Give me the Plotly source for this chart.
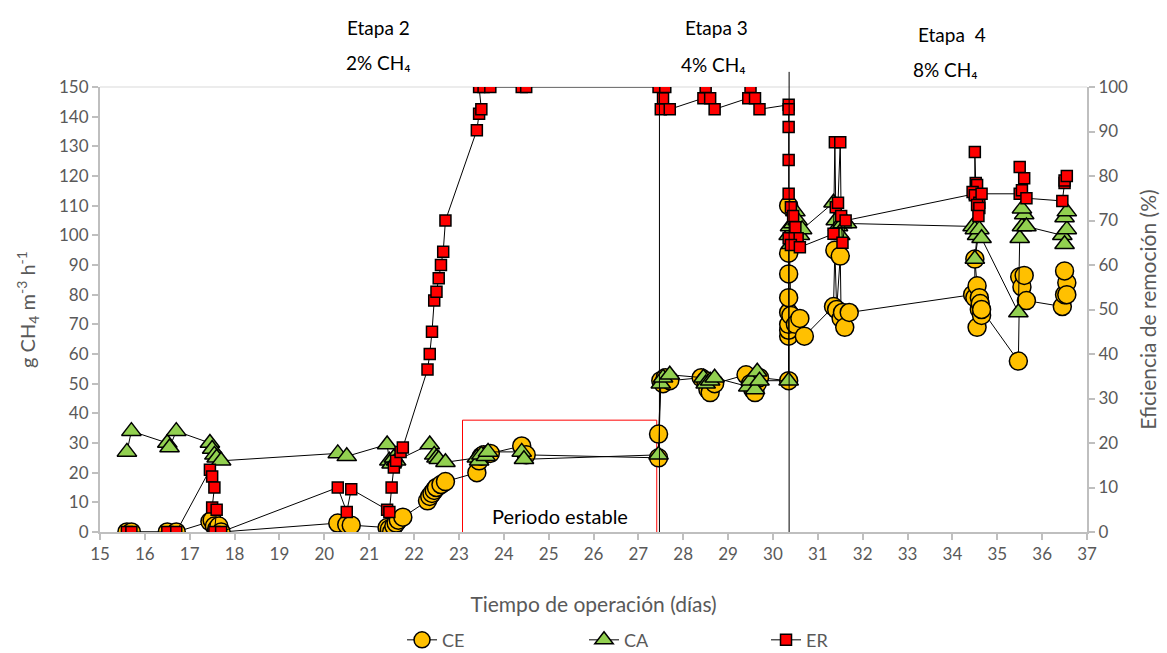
import plotly.graph_objects as go

# CE (g CH4 m-3 h-1) — operation day, value
ce_day = [15.6, 15.7, 16.5, 16.7,
          17.45, 17.5, 17.55, 17.6, 17.65, 17.7,
          20.3, 20.5, 20.6,
          21.4, 21.45, 21.5, 21.55, 21.6, 21.65, 21.75,
          22.3, 22.35, 22.4, 22.45, 22.5, 22.6, 22.7,
          23.4, 23.45, 23.5, 23.55, 23.7,
          24.4, 24.5,
          27.45, 27.45,
          27.5, 27.55, 27.6, 27.7,
          28.4, 28.5, 28.55, 28.6, 28.7,
          29.4, 29.5, 29.55, 29.6, 29.65, 29.7,
          30.35, 30.35, 30.35, 30.35, 30.35, 30.35, 30.35, 30.35, 30.35, 30.4, 30.5, 30.6, 30.7,
          31.35, 31.38, 31.42, 31.5, 31.52, 31.55, 31.6, 31.7,
          34.45, 34.5, 34.5, 34.55, 34.6, 34.6, 34.55, 34.62, 34.65, 34.65,
          35.47, 35.5, 35.55, 35.6, 35.65,
          36.45, 36.5, 36.55, 36.5, 36.55]
ce_val = [0, 0, 0, 0,
          3.5, 4, 2, 1, 2, 0,
          3, 2.5, 2.3,
          1.5, 1, 0, 2, 3, 4, 5,
          10.5, 12, 13, 14, 15, 16, 17,
          20, 24, 25.5, 26, 26.5,
          29, 26,
          25, 33,
          51, 50, 52, 51,
          52, 51, 48, 47, 50,
          53, 50, 48, 47, 50, 52,
          51, 66, 68, 70, 74, 79, 87, 94, 110, 73, 70, 72, 66,
          76, 95, 75, 93, 72, 74, 69, 74,
          80, 79, 92, 83, 79, 75, 69, 77, 73, 75,
          57.6, 86, 82.6, 86.5, 78,
          76, 80, 84, 88, 80]

# CA (g CH4 m-3 h-1)
ca_day = [15.6, 15.7, 16.5, 16.55, 16.7,
          17.45, 17.5, 17.55, 17.6, 17.7,
          20.3, 20.5,
          21.4, 21.45, 21.5, 21.55, 21.6,
          22.35, 22.45, 22.5, 22.55, 22.7,
          23.4, 23.45, 23.5, 23.6, 23.65,
          24.4, 24.45,
          27.45, 27.5, 27.55, 27.7,
          28.45, 28.5, 28.6, 28.7,
          29.45, 29.5, 29.6, 29.65, 29.7,
          30.35, 30.35, 30.38, 30.4, 30.45, 30.5, 30.55, 30.6, 30.65,
          31.35, 31.4, 31.45, 31.5, 31.55, 31.65,
          34.45, 34.5, 34.55, 34.5, 34.6, 34.65,
          35.47, 35.5, 35.55, 35.6, 35.55, 35.65,
          36.45, 36.5, 36.55, 36.5, 36.55]
ca_val = [27, 34, 30, 28.5, 34,
          30, 28, 26, 25, 24,
          26.5, 25.5,
          29.5, 24, 23, 25, 24,
          29.5, 26, 25, 24.5, 23.5,
          25, 24, 26, 25.5, 27,
          27, 24.5,
          26, 50, 52, 53,
          52, 50, 51, 52,
          49, 51, 48, 54, 51,
          51, 100, 103, 97, 104, 108, 105, 100, 102,
          111, 105, 103, 100, 104, 104,
          103, 102, 100, 92, 102, 99,
          74, 99, 103, 107, 109, 103,
          100, 97, 102, 106, 108]

# ER (%) — right axis
er_day = [15.6, 15.7, 16.5, 16.7,
          17.45, 17.5, 17.55, 17.5, 17.6, 17.55, 17.7,
          20.3, 20.5, 20.6,
          21.4, 21.45, 21.5, 21.55, 21.6, 21.7, 21.75,
          22.3, 22.35, 22.4, 22.45, 22.5, 22.55, 22.6, 22.65, 22.7,
          23.4, 23.45, 23.5, 23.45, 23.55, 23.7,
          24.4, 24.5,
          27.45, 27.5, 27.55, 27.6, 27.7,
          28.45, 28.5, 28.6, 28.7,
          29.45, 29.5, 29.6, 29.7,
          30.35, 30.35, 30.35, 30.35, 30.35, 30.4, 30.45, 30.5, 30.55, 30.35, 30.4, 30.6,
          31.35, 31.38, 31.4, 31.45, 31.5, 31.52, 31.55, 31.62,
          34.5, 34.5, 34.52, 34.55, 34.45, 34.5, 34.6, 34.55, 34.6, 34.58, 34.65,
          35.5, 35.5, 35.6, 35.55, 35.65,
          36.45, 36.5, 36.5, 36.55]
er_val = [0, 0, 0, 0,
          14, 12.5, 10, 5.5, 5, 0, 0,
          10, 4.5, 9.6,
          5, 4.5, 10, 14.5, 16, 18, 19,
          36.5, 40, 45, 52, 54, 57, 60, 63, 70,
          90.3, 94, 95, 100, 100, 100,
          100, 100,
          100, 95, 97.5, 100, 95,
          97.5, 100, 97.5, 95,
          97.5, 100, 97.5, 95,
          96, 95, 91, 83.6, 76, 73, 71, 68.5, 66, 66, 64.5, 64,
          67, 87.6, 73, 74, 87.6, 71, 65, 70,
          76, 85.4, 78.4, 78, 76.4, 75.7, 74, 73.5, 72.8, 71, 76,
          76, 82, 79.5, 76.8, 75,
          74.4, 78.4, 79, 80]

x_ticks = list(range(15, 38))

font_family = "Lato, 'Open Sans', sans-serif"
grey_text = "#595959"
axis_grey = "#BFBFBF"

fig = go.Figure()

fig.add_trace(go.Scatter(
    x=ce_day, y=ce_val, name="CE", mode="lines+markers",
    line=dict(color="black", width=1),
    marker=dict(symbol="circle", size=18, color="#FFC000",
                line=dict(color="black", width=1.5)),
))
fig.add_trace(go.Scatter(
    x=ca_day, y=ca_val, name="CA", mode="lines+markers",
    line=dict(color="black", width=1),
    marker=dict(symbol="triangle-up", size=17, color="#92D050",
                line=dict(color="black", width=1.5)),
))
fig.add_trace(go.Scatter(
    x=er_day, y=er_val, name="ER", mode="lines+markers", yaxis="y2",
    line=dict(color="black", width=1),
    marker=dict(symbol="square", size=11, color="#FF0000",
                line=dict(color="black", width=1.5)),
))

# stage dividers, stable-period box and top border
fig.add_shape(type="line", xref="x", yref="paper", x0=27.47, x1=27.47, y0=0, y1=1,
              line=dict(color="black", width=1))
fig.add_shape(type="line", xref="x", yref="paper", x0=30.36, x1=30.36, y0=0, y1=1.034,
              line=dict(color="black", width=1))
fig.add_shape(type="rect", xref="x", yref="y", x0=23.08, x1=27.41, y0=-0.3, y1=37.7,
              line=dict(color="#FF0000", width=1), layer="below")
fig.add_shape(type="line", xref="paper", yref="paper", x0=0, x1=1, y0=1, y1=1,
              line=dict(color="#D9D9D9", width=1), layer="below")

fig.add_annotation(x=25.25, y=5.5, xref="x", yref="y", text="Periodo estable",
                   showarrow=False, font=dict(size=20, color="black", family=font_family))

stage_labels = [
    (378, 28, "Etapa 2"), (378, 62, "2% CH\u2084"),
    (716, 28, "Etapa 3"), (713, 65, "4% CH\u2084"),
    (952, 35, "Etapa  4"), (945, 70, "8% CH\u2084"),
]
for px, py, txt in stage_labels:
    fig.add_annotation(x=(px - 100) / 987, y=(532 - py) / 445, xref="paper", yref="paper",
                       text=txt, showarrow=False, xanchor="center", yanchor="middle",
                       font=dict(size=19, color="black", family=font_family))

fig.update_layout(
    width=1167, height=653,
    margin=dict(l=100, r=80, t=87, b=121, autoexpand=False),
    paper_bgcolor="white", plot_bgcolor="white",
    font=dict(family=font_family, color=grey_text, size=16),
    showlegend=True,
    legend=dict(orientation="h", x=0.306, y=-0.243, xanchor="left", yanchor="middle",
                entrywidth=137, entrywidthmode="pixels",
                font=dict(size=18, color=grey_text), bgcolor="rgba(0,0,0,0)"),
    xaxis=dict(
        range=[15, 37], tickvals=x_ticks, ticktext=[str(t) for t in x_ticks],
        showgrid=False, zeroline=False, showline=True, linecolor=axis_grey, linewidth=2,
        ticks="outside", ticklen=6, tickcolor=axis_grey, tickwidth=2,
        tickfont=dict(size=17, color=grey_text),
        title=dict(text="Tiempo de operación (días)", font=dict(size=21, color=grey_text),
                   standoff=34),
    ),
    yaxis=dict(
        range=[0, 150], dtick=10, showgrid=False, zeroline=False,
        showline=True, linecolor=axis_grey, linewidth=2,
        ticks="outside", ticklen=6, tickcolor=axis_grey, tickwidth=2,
        tickfont=dict(size=17, color=grey_text),
        title=dict(text="g CH<sub>4</sub> m<sup>-3</sup> h<sup>-1</sup>",
                   font=dict(size=20, color=grey_text), standoff=18),
    ),
    yaxis2=dict(
        range=[0, 100], dtick=10, overlaying="y", side="right", showgrid=False,
        zeroline=False, showline=True, linecolor=axis_grey, linewidth=2,
        ticks="outside", ticklen=6, tickcolor=axis_grey, tickwidth=2,
        tickfont=dict(size=17, color=grey_text),
        title=dict(text="Eficiencia de remoción (%)", font=dict(size=21, color=grey_text),
                   standoff=14),
    ),
)

fig.write_html("out.html")
